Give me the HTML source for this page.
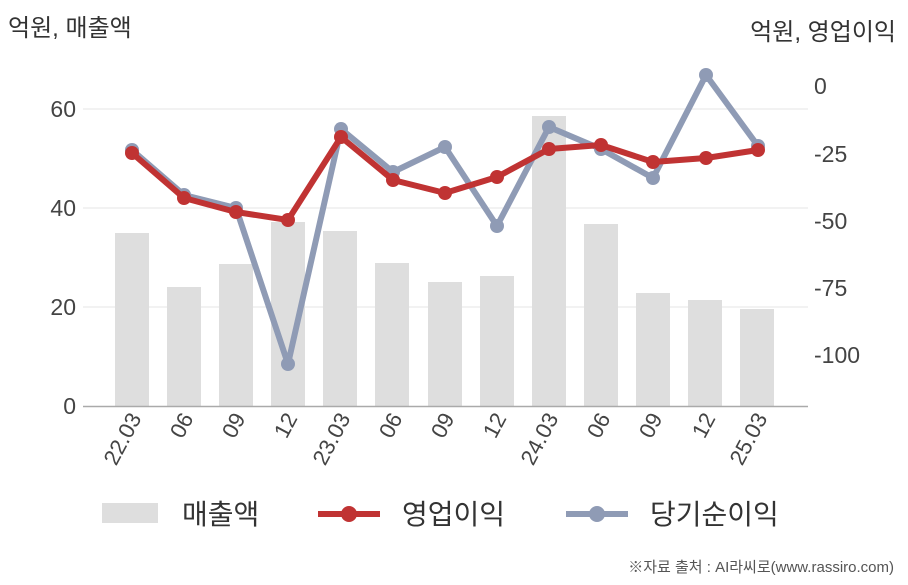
<!DOCTYPE html>
<html><head><meta charset="utf-8"><style>
body{margin:0;background:#fff}
svg text{font-family:"Liberation Sans","Noto Sans CJK KR",sans-serif}
</style></head><body>
<svg width="908" height="580" xmlns="http://www.w3.org/2000/svg">
<rect width="908" height="580" fill="#fff"/>
<text x="8" y="36" font-size="24" fill="#333">억원, 매출액</text>
<text x="896" y="40" font-size="24" fill="#333" text-anchor="end">억원, 영업이익</text>
<g stroke="#e6e6e6" stroke-width="1">
<line x1="83" y1="109" x2="808" y2="109"/><line x1="83" y1="208" x2="808" y2="208"/><line x1="83" y1="307" x2="808" y2="307"/>
</g>
<g font-size="23" fill="#444" text-anchor="end">
<text x="76" y="117">60</text><text x="76" y="216">40</text><text x="76" y="315">20</text><text x="76" y="414">0</text>
</g>
<g font-size="23" fill="#444">
<text x="814" y="94">0</text><text x="814" y="162">-25</text><text x="814" y="229">-50</text><text x="814" y="296">-75</text><text x="814" y="363">-100</text>
</g>
<g fill="#dedede">
<rect x="115" y="233" width="34" height="173"/>
<rect x="167" y="287" width="34" height="119"/>
<rect x="219" y="264" width="34" height="142"/>
<rect x="271" y="222" width="34" height="184"/>
<rect x="323" y="231" width="34" height="175"/>
<rect x="375" y="263" width="34" height="143"/>
<rect x="428" y="282" width="34" height="124"/>
<rect x="480" y="276" width="34" height="130"/>
<rect x="532" y="116" width="34" height="290"/>
<rect x="584" y="224" width="34" height="182"/>
<rect x="636" y="293" width="34" height="113"/>
<rect x="688" y="300" width="34" height="106"/>
<rect x="740" y="309" width="34" height="97"/>
</g>
<line x1="83" y1="406.5" x2="808" y2="406.5" stroke="#aaa" stroke-width="1.5"/>
<g stroke="#8f9bb5" stroke-width="6" fill="none" stroke-linejoin="round">
<polyline points="132,150 184,195 236,208 288,364 341,129 393,172 445,147 497,226 549,127 601,149 653,178 706,75 758,146"/>
</g>
<g fill="#8f9bb5">
<circle cx="132" cy="150" r="7"/><circle cx="184" cy="195" r="7"/><circle cx="236" cy="208" r="7"/><circle cx="288" cy="364" r="7"/><circle cx="341" cy="129" r="7"/><circle cx="393" cy="172" r="7"/><circle cx="445" cy="147" r="7"/><circle cx="497" cy="226" r="7"/><circle cx="549" cy="127" r="7"/><circle cx="601" cy="149" r="7"/><circle cx="653" cy="178" r="7"/><circle cx="706" cy="75" r="7"/><circle cx="758" cy="146" r="7"/>
</g>
<g stroke="#c03333" stroke-width="6" fill="none" stroke-linejoin="round">
<polyline points="132,153 184,198 236,212 288,220 341,137 393,180 445,193 497,177 549,149 601,145 653,162 706,158 758,150"/>
</g>
<g fill="#c03333">
<circle cx="132" cy="153" r="7"/><circle cx="184" cy="198" r="7"/><circle cx="236" cy="212" r="7"/><circle cx="288" cy="220" r="7"/><circle cx="341" cy="137" r="7"/><circle cx="393" cy="180" r="7"/><circle cx="445" cy="193" r="7"/><circle cx="497" cy="177" r="7"/><circle cx="549" cy="149" r="7"/><circle cx="601" cy="145" r="7"/><circle cx="653" cy="162" r="7"/><circle cx="706" cy="158" r="7"/><circle cx="758" cy="150" r="7"/>
</g>
<g font-size="22" fill="#444" text-anchor="end">
<text transform="translate(142,418) rotate(-62)">22.03</text>
<text transform="translate(194,418) rotate(-62)">06</text>
<text transform="translate(246,418) rotate(-62)">09</text>
<text transform="translate(298,418) rotate(-62)">12</text>
<text transform="translate(351,418) rotate(-62)">23.03</text>
<text transform="translate(403,418) rotate(-62)">06</text>
<text transform="translate(455,418) rotate(-62)">09</text>
<text transform="translate(507,418) rotate(-62)">12</text>
<text transform="translate(559,418) rotate(-62)">24.03</text>
<text transform="translate(611,418) rotate(-62)">06</text>
<text transform="translate(663,418) rotate(-62)">09</text>
<text transform="translate(716,418) rotate(-62)">12</text>
<text transform="translate(768,418) rotate(-62)">25.03</text>
</g>
<rect x="102" y="503" width="56" height="20" fill="#dedede"/>
<text x="182" y="524" font-size="28" fill="#333">매출액</text>
<line x1="318" y1="514" x2="380" y2="514" stroke="#c03333" stroke-width="6"/>
<circle cx="349" cy="514" r="8" fill="#c03333"/>
<text x="402" y="524" font-size="28" fill="#333">영업이익</text>
<line x1="566" y1="514" x2="628" y2="514" stroke="#8f9bb5" stroke-width="6"/>
<circle cx="597" cy="514" r="8" fill="#8f9bb5"/>
<text x="650" y="524" font-size="28" fill="#333">당기순이익</text>
<text x="894" y="572" font-size="15" fill="#555" text-anchor="end">※자료 출처 : AI라씨로(www.rassiro.com)</text>
</svg>
</body></html>
